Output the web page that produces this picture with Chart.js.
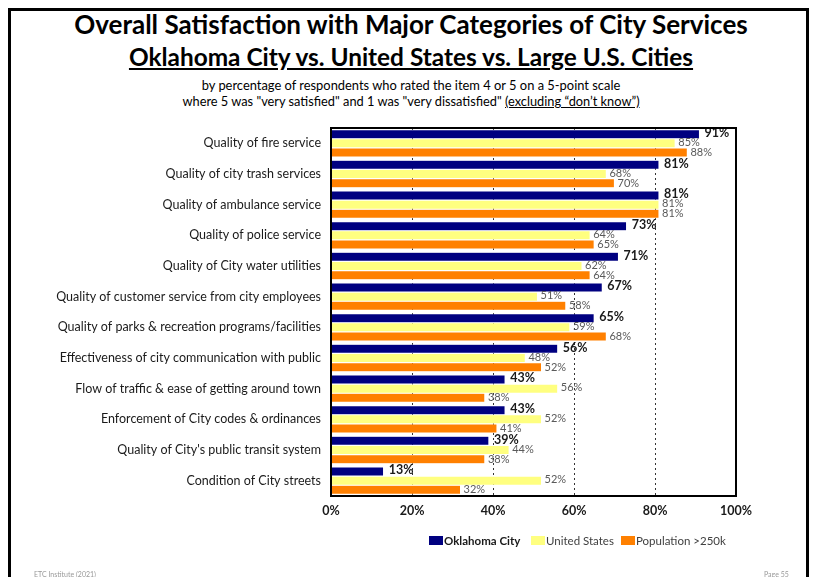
<!DOCTYPE html>
<html>
<head>
<meta charset="utf-8">
<script src="https://cdn.jsdelivr.net/npm/chart.js@4.4.1/dist/chart.umd.min.js"></script>
<style>
  html, body { margin:0; padding:0; background:#fff; }
  body { width:817px; height:577px; position:relative; overflow:hidden; font-family: Lato, "Open Sans", sans-serif; color:#000; }
  #frame { position:absolute; left:8px; top:8px; width:801px; height:600px; border:3px solid #000; border-bottom:none; box-sizing:border-box; }
  .t { position:absolute; left:0; width:822px; text-align:center; white-space:nowrap; }
  #t1 { top:8px; font-size:26px; font-weight:bold; }
  #t2 { top:42px; font-size:24.4px; font-weight:bold; text-decoration:underline; }
  #t3 { top:77px; font-size:12.9px; }
  #t4 { top:93px; font-size:12.8px; }
  #wrap { position:absolute; left:0; top:0; width:817px; height:577px; }
  .foot { position:absolute; top:570px; font-size:7px; color:#999; }
</style>
</head>
<body>
<div id="frame"></div>
<div class="t" id="t1">Overall Satisfaction with Major Categories of City Services</div>
<div class="t" id="t2">Oklahoma City vs. United States vs. Large U.S. Cities</div>
<div class="t" id="t3">by percentage of respondents who rated the item 4 or 5 on a 5-point scale</div>
<div class="t" id="t4">where 5 was "very satisfied" and 1 was "very dissatisfied" <span style="text-decoration:underline">(excluding “don’t know”)</span></div>
<div id="wrap"><canvas id="c" width="817" height="577"></canvas></div>
<div class="foot" style="left:34px;">ETC Institute (2021)</div>
<div class="foot" style="left:764px;">Page 55</div>
<script>
const categories = [
  "Quality of fire service",
  "Quality of city trash services",
  "Quality of ambulance service",
  "Quality of police service",
  "Quality of City water utilities",
  "Quality of customer service from city employees",
  "Quality of parks & recreation programs/facilities",
  "Effectiveness of city communication with public",
  "Flow of traffic & ease of getting around town",
  "Enforcement of City codes & ordinances",
  "Quality of City's public transit system",
  "Condition of City streets"
];
const okcValues = [91, 81, 81, 73, 71, 67, 65, 56, 43, 43, 39, 13];
const usValues  = [85, 68, 81, 64, 62, 51, 59, 48, 56, 52, 44, 52];
const popValues = [88, 70, 81, 65, 64, 58, 68, 52, 38, 41, 38, 32];
const seriesNames = ["Oklahoma City", "United States", "Population >250k"];
const tickValues = [0, 20, 40, 60, 80, 100];

const colors = ["#000080", "#FFFF80", "#FF8000"];
const FONT = "Lato, 'Open Sans', sans-serif";

const labelPlugin = {
  id: 'valueLabels',
  afterDatasetsDraw(chart) {
    const ctx = chart.ctx;
    ctx.save();
    chart.data.datasets.forEach((ds, di) => {
      const meta = chart.getDatasetMeta(di);
      meta.data.forEach((bar, i) => {
        const v = ds.data[i];
        ctx.textBaseline = "middle";
        if (di === 0) {
          ctx.font = "bold 12.5px " + FONT;
          ctx.fillStyle = "#1a1a1a";
          ctx.fillText(v + "%", bar.x + 5, bar.y - 1);
        } else {
          ctx.font = "11px " + FONT;
          ctx.fillStyle = "#595959";
          ctx.fillText(v + "%", bar.x + 3, bar.y + (di === 1 ? -1 : 0));
        }
      });
    });
    ctx.restore();
  }
};

const framePlugin = {
  id: 'plotFrame',
  afterDraw(chart) {
    const a = chart.chartArea, ctx = chart.ctx;
    ctx.save();
    ctx.strokeStyle = "#000";
    ctx.lineWidth = 2;
    ctx.strokeRect(a.left, a.top, a.right - a.left, a.bottom - a.top);
    const items = [
      {x: 429, bold: true},
      {x: 531, bold: false},
      {x: 621, bold: false}
    ];
    const y = 541;
    chart.data.datasets.forEach((ds, i) => {
      const it = items[i];
      ctx.fillStyle = ds.backgroundColor;
      ctx.fillRect(it.x, y - 5, 14, 9);
      ctx.font = (it.bold ? "bold " : "") + "11.5px " + FONT;
      ctx.fillStyle = it.bold ? "#1a1a1a" : "#404040";
      ctx.textBaseline = "middle";
      ctx.fillText(ds.label, it.x + 15, y);
    });
    ctx.restore();
  }
};

new Chart(document.getElementById('c'), {
  type: 'bar',
  data: {
    labels: categories,
    datasets: [
      { label: seriesNames[0], data: okcValues, backgroundColor: colors[0] },
      { label: seriesNames[1], data: usValues, backgroundColor: colors[1] },
      { label: seriesNames[2], data: popValues, backgroundColor: colors[2] }
    ]
  },
  options: {
    indexAxis: 'y',
    responsive: false,
    animation: false,
    maintainAspectRatio: false,
    layout: { padding: { top: 128, right: 81, bottom: 53, left: 0 } },
    datasets: { bar: { categoryPercentage: 0.9, barPercentage: 1.0, borderWidth: 0.6, borderColor: 'rgba(255,255,255,0.7)' } },
    plugins: {
      legend: { display: false },
      tooltip: { enabled: false }
    },
    scales: {
      x: {
        min: 0, max: 100,
        afterBuildTicks(scale) { scale.ticks = tickValues.map(v => ({ value: v })); },
        afterFit(scale) { scale.height = 28; },
        ticks: {
          callback: v => v + '%',
          font: { family: FONT, size: 12.5, weight: 'bold' },
          color: '#1a1a1a',
          padding: 7
        },
        grid: {
          display: true,
          drawTicks: false,
          color: (c) => (c.tick && (c.tick.value === 0 || c.tick.value === 100)) ? 'rgba(0,0,0,0)' : '#333',
          lineWidth: 1
        },
        border: { display: false, dash: [2, 3] }
      },
      y: {
        afterFit(scale) { scale.width = 331; },
        ticks: {
          font: { family: FONT, size: 12.5 },
          color: '#1a1a1a',
          padding: 2
        },
        grid: { display: false },
        border: { display: false }
      }
    }
  },
  plugins: [labelPlugin, framePlugin]
});
</script>
</body>
</html>
